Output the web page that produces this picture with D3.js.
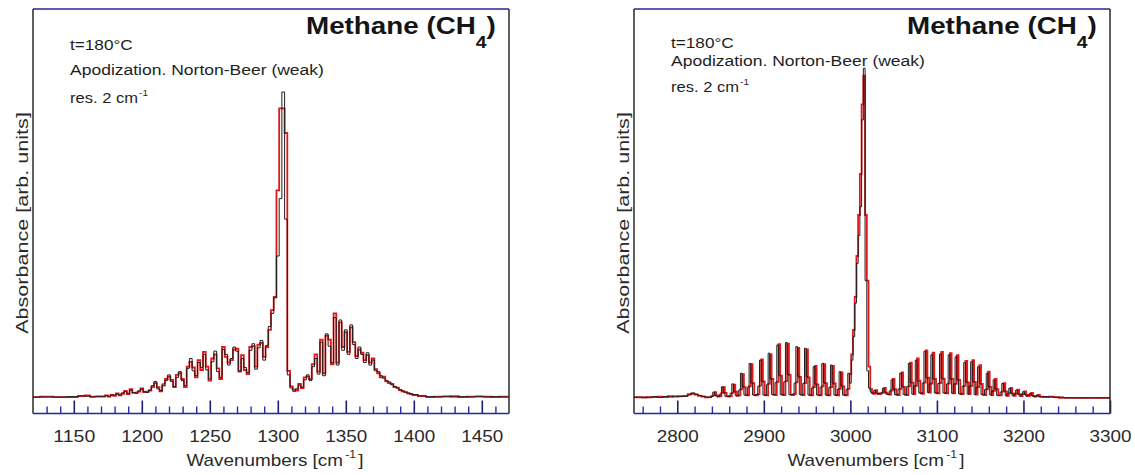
<!DOCTYPE html>
<html>
<head>
<meta charset="utf-8">
<script src="https://cdn.jsdelivr.net/npm/d3@7"></script>
<style>
body { margin: 0; background: #fff; }
svg text { font-family: "Liberation Sans", Arial, sans-serif; }
</style>
</head>
<body>
<svg id="chart" width="1135" height="475"></svg>
<script>
// ---- data (absorbance in arbitrary units) ----
const leftWn = [1120,1130,1140,1150,1156,1160,1164,1168,
  1172,1174,1176,1178,1180,1182,1184,1186,1188,1190,
  1192,1194,1196,1198,1200,1202,1204,1206,1208,1210,
  1212,1214,1216,1218,1220,1222,1224,1226,1228,1230,
  1232,1234,1236,1238,1240,1242,1244,1246,1248,1250,
  1252,1254,1256,1258,1260,1262,1264,1266,1268,1270,
  1272,1274,1276,1278,1280,1282,1284,1286,1288,1290,
  1292,1294,1296,1298,1300,1302,1304,1306,1308,1310,
  1312,1314,1316,1318,1320,1322,1324,1326,1328,1330,
  1332,1334,1336,1338,1340,1342,1344,1346,1348,1350,
  1352,1354,1356,1358,1360,1362,1364,1366,1368,1370,
  1372,1374,1376,1378,1380,1382,1384,1386,1388,1390,
  1392,1394,1396,1398,1400,
  1406,1412,1418,1424,1430,1436,1442,1448,1454,1460,1466,1470];

const leftBlack = [0.056,0.056,0.056,0.057,0.059,0.058,0.056,0.058,
  0.058,0.059,0.058,0.060,0.061,0.063,0.061,0.066,0.069,0.065,
  0.073,0.067,0.065,0.071,0.075,0.069,0.067,0.073,0.084,0.094,
  0.076,0.072,0.088,0.096,0.110,0.094,0.082,0.104,0.118,0.096,
  0.084,0.126,0.150,0.120,0.108,0.140,0.128,0.160,0.122,0.100,
  0.142,0.168,0.118,0.104,0.172,0.160,0.134,0.150,0.178,0.168,
  0.120,0.150,0.128,0.116,0.170,0.186,0.124,0.176,0.194,0.146,
  0.182,0.228,0.260,0.298,0.400,0.540,0.800,0.490,0.110,0.078,
  0.070,0.076,0.085,0.080,0.098,0.110,0.096,0.130,0.150,0.112,
  0.190,0.108,0.210,0.180,0.140,0.250,0.134,0.244,0.170,0.220,
  0.160,0.232,0.184,0.150,0.178,0.160,0.140,0.164,0.134,0.146,
  0.120,0.118,0.108,0.102,0.096,0.093,0.086,0.082,0.078,0.074,
  0.071,0.068,0.066,0.064,0.062,
  0.059,0.057,0.056,0.058,0.056,0.057,0.056,0.058,0.056,0.057,0.056,0.056];

const leftRed = [0.056,0.057,0.056,0.056,0.058,0.060,0.057,0.057,
  0.057,0.060,0.057,0.061,0.059,0.065,0.060,0.064,0.071,0.063,
  0.075,0.066,0.067,0.069,0.077,0.068,0.069,0.072,0.080,0.090,
  0.080,0.070,0.084,0.100,0.106,0.098,0.080,0.110,0.114,0.100,
  0.080,0.130,0.142,0.128,0.104,0.146,0.122,0.166,0.130,0.096,
  0.150,0.160,0.126,0.100,0.178,0.154,0.140,0.146,0.172,0.174,
  0.118,0.158,0.122,0.112,0.178,0.180,0.130,0.184,0.188,0.154,
  0.178,0.220,0.268,0.300,0.560,0.760,0.760,0.700,0.120,0.082,
  0.074,0.072,0.088,0.078,0.104,0.106,0.100,0.136,0.160,0.118,
  0.196,0.114,0.206,0.196,0.136,0.260,0.140,0.238,0.178,0.214,
  0.166,0.226,0.190,0.156,0.172,0.164,0.146,0.158,0.140,0.150,
  0.124,0.114,0.104,0.106,0.094,0.090,0.088,0.080,0.079,0.073,
  0.070,0.068,0.065,0.063,0.061,
  0.058,0.056,0.057,0.057,0.058,0.056,0.057,0.057,0.057,0.056,0.057,0.057];

const rightWn = [2750,2756,2762,2768,2774,2780,2786,2792,2798,2804,2810,2814,2818,2822,2826,2830,2834,2838,
  2840,2842,2844,2846,2848,2850,2852,2854,2856,2858,
  2860,2862,2864,2866,2868,2870,2872,2874,2876,2878,
  2880,2882,2884,2886,2888,2890,2892,2894,2896,2898,
  2900,2902,2904,2906,2908,2910,2912,2914,2916,2918,
  2920,2922,2924,2926,2928,2930,2932,2934,2936,2938,
  2940,2942,2944,2946,2948,2950,2952,2954,2956,2958,
  2960,2962,2964,2966,2968,2970,2972,2974,2976,2978,
  2980,2982,2984,2986,2988,2990,2992,2994,2996,2998,
  3000,3002,3004,3006,3008,3010,3012,3014,3016,3018,
  3020,3022,3024,3026,3028,3030,3032,3034,3036,3038,
  3040,3042,3044,3046,3048,3050,3052,3054,3056,3058,
  3060,3062,3064,3066,3068,3070,3072,3074,3076,3078,
  3080,3082,3084,3086,3088,3090,3092,3094,3096,3098,
  3100,3102,3104,3106,3108,3110,3112,3114,3116,3118,
  3120,3122,3124,3126,3128,3130,3132,3134,3136,3138,
  3140,3142,3144,3146,3148,3150,3152,3154,3156,3158,
  3160,3162,3164,3166,3168,3170,3172,3174,3176,3178,
  3180,3182,3184,3186,3188,3190,3192,3194,3196,3198,
  3200,3202,3204,3206,3208,3210,3212,3214,3216,3218,
  3220,
  3226,3232,3238,3244,3250,3260,3270,3280,3290,3300];

const rightBlack = [0.055,0.056,0.054,0.056,0.057,0.055,0.057,0.056,0.058,0.057,0.058,0.061,0.066,0.063,0.060,0.058,0.056,0.055,
  0.057,0.068,0.060,0.057,0.058,0.063,0.081,0.067,0.058,0.057,
  0.058,0.065,0.088,0.069,0.059,0.060,0.073,0.114,0.082,0.061,
  0.060,0.080,0.138,0.091,0.061,0.060,0.062,0.082,0.146,0.094,
  0.061,0.060,0.086,0.163,0.101,0.062,0.061,0.091,0.183,0.109,
  0.062,0.061,0.093,0.189,0.112,0.062,0.061,0.063,0.090,0.179,
  0.107,0.062,0.061,0.089,0.175,0.106,0.061,0.060,0.078,0.130,
  0.088,0.061,0.060,0.080,0.138,0.091,0.061,0.060,0.079,0.134,
  0.090,0.061,0.060,0.075,0.118,0.083,0.061,0.060,0.074,0.114,
  0.090,0.146,0.203,0.285,0.382,0.450,0.520,0.732,0.858,0.340,
  0.120,0.078,0.068,0.064,0.072,0.066,0.063,0.065,0.066,0.077,
  0.068,0.063,0.062,0.071,0.098,0.076,0.062,0.061,0.075,0.114,
  0.082,0.062,0.061,0.081,0.138,0.092,0.063,0.082,0.146,0.095,
  0.066,0.064,0.090,0.167,0.104,0.067,0.088,0.159,0.101,0.066,
  0.065,0.089,0.161,0.102,0.066,0.065,0.088,0.159,0.101,0.065,
  0.087,0.154,0.099,0.064,0.063,0.082,0.140,0.093,0.063,0.082,
  0.142,0.094,0.062,0.079,0.130,0.089,0.062,0.061,0.074,0.114,
  0.082,0.061,0.070,0.098,0.076,0.060,0.060,0.068,0.089,0.071,
  0.059,0.064,0.077,0.066,0.059,0.063,0.073,0.064,0.058,0.062,
  0.069,0.062,0.058,0.060,0.065,0.060,0.057,0.058,0.061,0.057,
  0.056,
  0.057,0.056,0.055,0.056,0.054,0.054,0.054,0.054,0.054,0.054];

const rightRed = [0.056,0.055,0.056,0.055,0.056,0.057,0.056,0.058,0.057,0.058,0.059,0.063,0.064,0.062,0.059,0.057,0.055,0.056,
  0.058,0.060,0.068,0.060,0.057,0.058,0.066,0.080,0.066,0.058,
  0.057,0.058,0.066,0.086,0.069,0.059,0.060,0.075,0.112,0.080,
  0.061,0.060,0.082,0.136,0.090,0.061,0.060,0.063,0.084,0.148,
  0.094,0.061,0.060,0.088,0.160,0.100,0.062,0.061,0.093,0.185,
  0.108,0.062,0.061,0.095,0.186,0.110,0.062,0.061,0.063,0.092,
  0.176,0.105,0.062,0.061,0.090,0.172,0.104,0.061,0.060,0.080,
  0.132,0.087,0.061,0.060,0.082,0.136,0.090,0.061,0.060,0.080,
  0.132,0.089,0.061,0.060,0.076,0.116,0.082,0.061,0.060,0.076,
  0.112,0.160,0.220,0.300,0.400,0.500,0.600,0.770,0.840,0.500,
  0.340,0.130,0.075,0.066,0.064,0.073,0.065,0.063,0.065,0.067,
  0.078,0.067,0.063,0.062,0.072,0.100,0.075,0.062,0.061,0.076,
  0.116,0.081,0.062,0.061,0.082,0.140,0.091,0.063,0.083,0.150,
  0.096,0.066,0.064,0.091,0.170,0.103,0.067,0.089,0.164,0.100,
  0.066,0.065,0.090,0.166,0.101,0.066,0.065,0.089,0.163,0.100,
  0.065,0.088,0.158,0.098,0.064,0.063,0.083,0.144,0.092,0.063,
  0.083,0.146,0.093,0.062,0.080,0.134,0.088,0.062,0.061,0.075,
  0.118,0.081,0.061,0.071,0.100,0.075,0.060,0.060,0.069,0.090,
  0.070,0.059,0.065,0.078,0.065,0.059,0.064,0.074,0.063,0.058,
  0.063,0.070,0.061,0.058,0.061,0.066,0.059,0.057,0.059,0.061,
  0.057,
  0.056,0.057,0.056,0.054,0.054,0.054,0.054,0.054,0.054,0.054];

const leftTicks = [1150, 1200, 1250, 1300, 1350, 1400, 1450];
const rightTicks = [2800, 2900, 3000, 3100, 3200, 3300];

const titleText = "Methane (CH";
const titleSub = "4";
const notes = ["t=180\u00b0C", "Apodization. Norton-Beer (weak)", "res. 2 cm"];
const xLabel = "Wavenumbers [cm";
const yLabel = "Absorbance [arb. units]";

// ---- layout ----
const frameTop = 9, axisY = 413.5, panelW = 476;

const panels = [
  { left: 33, wn: leftWn, black: leftBlack, red: leftRed, domain: [1120, 1470],
    ticks: leftTicks, minor: d3.range(1130, 1470, 10), noteY: [50, 75, 103] },
  { left: 634, wn: rightWn, black: rightBlack, red: rightRed, domain: [2750, 3300],
    ticks: rightTicks, minor: d3.range(2760, 3300, 20), noteY: [48, 66, 92] }
];

const svg = d3.select("#chart");

// draws a text and stretches it horizontally to the width it has in the picture
function fitText(parent, x, y, width, anchor, build, rotate) {
  let g = parent.append("g");
  let t = g.append("text").attr("text-anchor", anchor);
  build(t);
  let w = t.node().getBBox().width;
  g.attr("transform", `translate(${x},${y})` + (rotate ? ` rotate(${rotate})` : "") + ` scale(${width / w},1)`);
  return t;
}

let yScale = d3.scaleLinear().domain([0, 1]).range([420, 10]);

panels.forEach(function(p, k) {
  let x = d3.scaleLinear().domain(p.domain).range([p.left, p.left + panelW]);

  svg.append("clipPath").attr("id", "clip" + k)
    .append("rect")
    .attr("x", p.left).attr("y", frameTop)
    .attr("width", panelW).attr("height", axisY - frameTop);

  let pts = p.wn.map((w, i) => ({ w: w, b: p.black[i], r: p.red[i] }));

  let line = d3.line().x(d => x(d.w)).curve(d3.curveStep);

  let plot = svg.append("g").attr("clip-path", `url(#clip${k})`);
  plot.append("path")
    .attr("d", line.y(d => yScale(d.r))(pts))
    .attr("fill", "none")
    .attr("stroke", "#e01818")
    .attr("stroke-width", 1.8);
  plot.append("path")
    .attr("d", line.y(d => yScale(d.b))(pts))
    .attr("fill", "none")
    .attr("stroke", "#1e1e1e")
    .attr("stroke-width", 1);

  // minor and major ticks pointing up from the bottom axis
  let minorAxis = d3.axisBottom(x)
    .tickValues(p.minor.filter(v => p.ticks.indexOf(v) < 0))
    .tickSize(-7).tickSizeOuter(0).tickFormat("");
  let gMinor = svg.append("g").attr("transform", `translate(0,${axisY})`).call(minorAxis);
  gMinor.select(".domain").remove();
  gMinor.selectAll("line").attr("stroke", "#2a2ab4").attr("stroke-width", 1.4);

  let majorAxis = d3.axisBottom(x)
    .tickValues(p.ticks)
    .tickSize(-13).tickSizeOuter(0).tickFormat(d3.format("d"));
  let gMajor = svg.append("g").attr("transform", `translate(0,${axisY})`).call(majorAxis);
  gMajor.select(".domain").remove();
  gMajor.selectAll("line").attr("stroke", "#1e1e78").attr("stroke-width", 1.6);
  gMajor.selectAll("text")
    .attr("y", 28.5).attr("dy", 0)
    .attr("font-size", 17)
    .attr("fill", "#2a2a2a")
    .attr("font-family", "Liberation Sans, Arial, sans-serif")
    .each(function() {
      let w = this.getBBox().width;
      d3.select(this).attr("transform", `scale(${42 / w},1)`);
    });

  // frame
  let L = p.left, R = p.left + panelW;
  svg.append("line").attr("x1", L).attr("x2", L).attr("y1", frameTop).attr("y2", axisY)
    .attr("stroke", "#2a2a2a").attr("stroke-width", 1.5);
  svg.append("line").attr("x1", R).attr("x2", R).attr("y1", frameTop).attr("y2", axisY)
    .attr("stroke", "#2a2a2a").attr("stroke-width", 1.5);
  svg.append("line").attr("x1", L).attr("x2", R).attr("y1", frameTop).attr("y2", frameTop)
    .attr("stroke", "#26268c").attr("stroke-width", 1.5);
  svg.append("line").attr("x1", L).attr("x2", R).attr("y1", axisY).attr("y2", axisY)
    .attr("stroke", "#2424a8").attr("stroke-width", 1.6);

  // title
  fitText(svg, L + 273, 34, 190, "start", function(t) {
    t.attr("font-size", 23).attr("font-weight", "bold").attr("fill", "#151515");
    t.append("tspan").text(titleText);
    t.append("tspan").attr("font-size", 16).attr("dy", 14).text(titleSub);
    t.append("tspan").attr("dy", -14).text(")");
  });

  // notes
  let noteW = [63, 254, 78];
  notes.forEach(function(n, i) {
    fitText(svg, L + 37, p.noteY[i], noteW[i], "start", function(t) {
      t.attr("font-size", 15).attr("fill", "#1e1e1e");
      t.append("tspan").text(n);
      if (i == 2) {
        t.append("tspan").attr("font-size", 9).attr("dy", -7).attr("dx", 1).text("-1");
      }
    });
  });

  // axis labels
  fitText(svg, L + panelW / 2 + 4, 466, 177, "middle", function(t) {
    t.attr("font-size", 17).attr("fill", "#2a2a2a");
    t.append("tspan").text(xLabel);
    t.append("tspan").attr("font-size", 11).attr("dy", -8).attr("dx", 2).text("-1");
    t.append("tspan").attr("dy", 8).attr("dx", 2).text("]");
  });

  fitText(svg, L - 5, 223, 222, "middle", function(t) {
    t.attr("font-size", 17).attr("fill", "#2a2a2a").text(yLabel);
  }, -90);
});
</script>
</body>
</html>
